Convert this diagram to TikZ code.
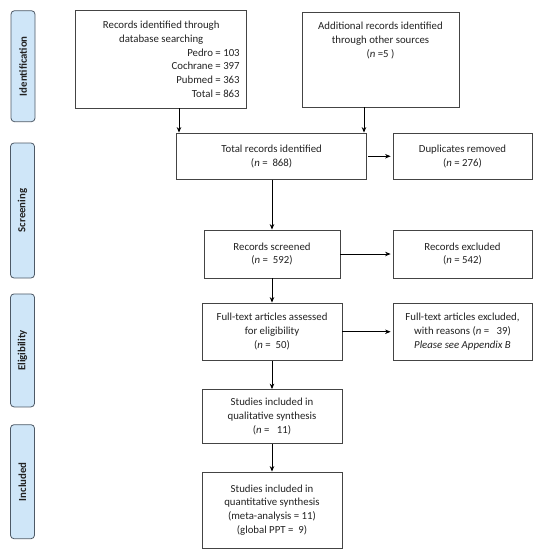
\documentclass[tikz,border=0pt]{standalone}
\usepackage{fontspec}
\setmainfont{Carlito}
\usetikzlibrary{arrows.meta}
\definecolor{sidefill}{HTML}{CFE6F8}
\definecolor{sidedraw}{HTML}{4D5966}
\definecolor{boxdraw}{HTML}{444444}
\definecolor{txt}{HTML}{222222}
\begin{document}
\begin{tikzpicture}[x=1pt,y=-1pt,
  box/.style={draw=boxdraw, line width=0.8pt, fill=white, align=center, inner sep=2pt, text=txt,
    font=\fontsize{10.8}{13.8}\selectfont},
  side/.style={draw=sidedraw, fill=sidefill, rounded corners=3.5pt, line width=0.8pt, rotate=90,
    minimum height=24pt, inner sep=1pt, text=txt, font=\bfseries\fontsize{10.8}{12}\selectfont},
  arr/.style={-{Stealth[length=5.5pt,width=4.5pt]}, line width=0.8pt, black}]
\useasboundingbox (0,0) rectangle (536,550);

% phase labels
\node[side, minimum width=111pt] (sid) at (23,66.2) {Identification};
\node[side, minimum width=135pt] (ssc) at (22.5,210.5) {Screening};
\node[side, minimum width=113pt] (sel) at (22.5,350.4) {Eligibility};
\node[side, minimum width=114pt] (sin) at (22.5,481.7) {Included};

% boxes
\node[box, minimum width=171pt, minimum height=97.3pt] (db) at (161.2,59.35)
  {\parbox{157pt}{\centering Records identified through\\ database searching\par
   \raggedleft Pedro = 103\\ Cochrane = 397\\ Pubmed = 363\\ Total = 863}};
\node[box, minimum width=157pt, minimum height=95pt] (add) at (380.5,59.5)
  {\parbox[c][75pt][t]{150pt}{\centering Additional records identified\\ through other sources\\ (\textit{n} =5 )}};
\node[box, minimum width=189.8pt, minimum height=46.5pt] (total) at (271.6,156.25)
  {Total records identified\\ (\textit{n} =\ \ 868)};
\node[box, minimum width=139pt, minimum height=46.5pt] (dup) at (462.5,156.25)
  {Duplicates removed\\ (\textit{n} = 276)};
\node[box, minimum width=136pt, minimum height=48pt] (scr) at (272,254)
  {Records screened\\ (\textit{n} =\ \ 592)};
\node[box, minimum width=139pt, minimum height=48pt] (exc) at (462.5,254)
  {Records excluded\\ (\textit{n} = 542)};
\node[box, minimum width=140pt, minimum height=57.5pt] (full) at (272,331.75)
  {Full-text articles assessed\\ for eligibility\\ (\textit{n} =\ \ 50)};
\node[box, minimum width=139pt, minimum height=57.5pt] (fullex) at (462.5,331.75)
  {Full-text articles excluded,\\ with reasons (\textit{n} =\ \ \ 39)\\ \textit{Please see Appendix B}};
\node[box, minimum width=140pt, minimum height=54pt] (qual) at (272,416.5)
  {Studies included in\\ qualitative synthesis\\ (\textit{n} =\ \ \ 11)};
\node[box, minimum width=140pt, minimum height=76pt] (quant) at (272,510)
  {Studies included in\\ quantitative synthesis\\ (meta-analysis = 11)\\ (global PPT =\ \ 9)};

% connectors
\coordinate (a1) at ([xshift=17.8pt]db.south);
\draw[arr] (a1) -- (a1 |- total.north);
\coordinate (a2) at ([xshift=-16.5pt]add.south);
\draw[arr] (a2) -- (a2 |- total.north);
\draw[arr, shorten <=1.5pt, shorten >=2pt] (total.east) -- (dup.west);
\draw[arr] (scr.north |- total.south) -- (scr.north);
\draw[arr, shorten >=2pt] (scr.east) -- (exc.west);
\draw[arr, shorten >=2pt] (full.east) -- (fullex.west);
\draw[arr] (scr.south) -- (full.north);
\draw[arr] (full.south) -- (qual.north);
\draw[arr] (qual.south) -- (quant.north);
\end{tikzpicture}
\end{document}
